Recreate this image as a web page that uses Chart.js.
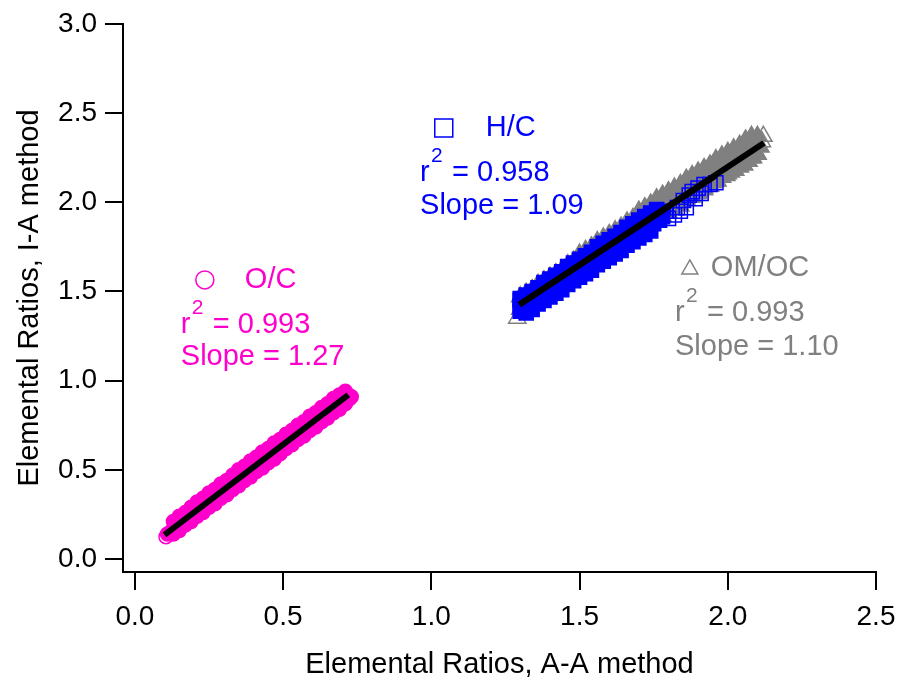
<!DOCTYPE html>
<html>
<head>
<meta charset="utf-8">
<script src="https://cdn.jsdelivr.net/npm/chart.js@4/dist/chart.umd.min.js"></script>
<style>
  html, body { margin: 0; padding: 0; background: #fff; }
  #wrap { position: relative; width: 900px; height: 685px; }
</style>
</head>
<body>
<div id="wrap"><canvas id="myChart" width="900" height="685"></canvas></div>
<script>
// ---- data ----
var xTicks = [0.0, 0.5, 1.0, 1.5, 2.0, 2.5];
var yTicks = [0.0, 0.5, 1.0, 1.5, 2.0, 2.5, 3.0];

// O/C  [A-A, I-A]
var ocPoints = [
    [0.105,0.125],[0.11,0.14],[0.12,0.15],[0.13,0.17],[0.14,0.18],[0.15,0.20],[0.16,0.21],[0.17,0.23],[0.18,0.23],[0.19,0.25],
    [0.20,0.27],[0.21,0.27],[0.22,0.29],[0.23,0.30],[0.24,0.32],[0.25,0.33],[0.26,0.34],[0.27,0.36],[0.28,0.36],[0.29,0.38],
    [0.30,0.40],[0.31,0.40],[0.32,0.42],[0.33,0.43],[0.34,0.45],[0.35,0.45],[0.36,0.47],[0.37,0.49],[0.38,0.49],[0.39,0.51],
    [0.40,0.52],[0.41,0.54],[0.42,0.54],[0.43,0.56],[0.44,0.57],[0.45,0.59],[0.46,0.60],[0.47,0.61],[0.48,0.63],[0.49,0.63],
    [0.50,0.65],[0.51,0.66],[0.52,0.68],[0.53,0.68],[0.54,0.70],[0.55,0.71],[0.56,0.73],[0.57,0.73],[0.58,0.75],[0.59,0.76],
    [0.60,0.78],[0.61,0.78],[0.62,0.80],[0.63,0.81],[0.64,0.83],[0.65,0.83],[0.66,0.85],[0.67,0.86],[0.68,0.88],[0.69,0.88],
    [0.70,0.90],[0.71,0.91],[0.72,0.92],[0.73,0.91],[0.725,0.90],
    [0.13,0.21],[0.15,0.24],[0.17,0.26],[0.19,0.29],[0.21,0.32],[0.23,0.34],[0.25,0.37],[0.27,0.39],[0.29,0.42],[0.31,0.44],
    [0.33,0.47],[0.35,0.50],[0.37,0.52],[0.39,0.55],[0.41,0.57],[0.43,0.60],[0.45,0.62],[0.47,0.65],[0.49,0.67],[0.51,0.70],
    [0.53,0.72],[0.55,0.75],[0.57,0.77],[0.59,0.80],[0.61,0.82],[0.63,0.85],[0.65,0.87],[0.67,0.90],[0.69,0.92],[0.71,0.94],
    [0.13,0.14],[0.15,0.16],[0.17,0.19],[0.19,0.21],[0.21,0.24],[0.23,0.26],[0.25,0.29],[0.27,0.31],[0.29,0.34],[0.31,0.36],
    [0.33,0.39],[0.35,0.41],[0.37,0.44],[0.39,0.46],[0.41,0.49],[0.43,0.51],[0.45,0.54],[0.47,0.56],[0.49,0.59],[0.51,0.62],
    [0.53,0.64],[0.55,0.67],[0.57,0.69],[0.59,0.72],[0.61,0.74],[0.63,0.77],[0.65,0.79],[0.67,0.82],[0.69,0.84],[0.71,0.87]
];

// H/C
var hcPoints = [
    [1.30,1.42],[1.30,1.45],[1.31,1.40],[1.32,1.45],[1.33,1.44],[1.34,1.47],[1.35,1.46],[1.36,1.49],[1.37,1.48],[1.38,1.51],
    [1.39,1.51],[1.40,1.53],[1.41,1.53],[1.42,1.55],[1.43,1.55],[1.44,1.58],[1.45,1.57],[1.46,1.60],[1.47,1.59],[1.48,1.62],
    [1.49,1.61],[1.50,1.64],[1.51,1.63],[1.52,1.66],[1.53,1.66],[1.54,1.68],[1.55,1.68],[1.56,1.71],[1.57,1.70],[1.58,1.73],
    [1.59,1.72],[1.60,1.75],[1.61,1.74],[1.62,1.77],[1.63,1.76],[1.64,1.79],[1.65,1.79],[1.66,1.81],[1.67,1.80],[1.68,1.83],
    [1.69,1.82],[1.70,1.85],[1.71,1.84],[1.72,1.87],[1.73,1.86],[1.74,1.89],[1.75,1.88],[1.76,1.91],[1.77,1.90],[1.78,1.92],
    [1.30,1.39],[1.32,1.42],[1.34,1.44],[1.36,1.46],[1.38,1.48],[1.40,1.50],[1.42,1.53],[1.44,1.55],[1.46,1.57],[1.48,1.59],
    [1.50,1.61],[1.52,1.64],[1.54,1.66],[1.56,1.68],[1.58,1.70],[1.60,1.72],[1.62,1.75],[1.64,1.77],[1.66,1.79],[1.68,1.81],
    [1.70,1.83],[1.72,1.86],[1.74,1.88],[1.76,1.90],
    [1.32,1.38],[1.34,1.40],[1.36,1.43],[1.38,1.45],[1.40,1.47],[1.42,1.49],[1.44,1.51],[1.46,1.54],[1.48,1.56],[1.50,1.58],
    [1.52,1.60],[1.54,1.62],[1.56,1.65],[1.58,1.67],[1.60,1.69],[1.62,1.71],[1.64,1.73],[1.66,1.76],[1.68,1.78],[1.70,1.80],
    [1.72,1.82],[1.74,1.84],
    [1.30,1.46],[1.32,1.48],[1.34,1.50],[1.36,1.52],[1.38,1.55],[1.40,1.57],[1.42,1.59],[1.44,1.61],[1.46,1.64],[1.48,1.66],
    [1.50,1.68],[1.52,1.70],[1.54,1.72],[1.56,1.75],[1.58,1.77],[1.60,1.79],[1.62,1.81],[1.64,1.83],[1.66,1.86],[1.68,1.88],
    [1.70,1.90],[1.72,1.92],[1.74,1.94],[1.76,1.96],
    [1.79,1.95],[1.80,1.91],[1.82,1.93],[1.83,1.97],[1.84,1.95],[1.85,2.01],[1.86,1.97],[1.87,2.04],[1.88,2.06],[1.89,2.02],
    [1.90,2.08],[1.91,2.05],[1.92,2.10],[1.94,2.10],[1.96,2.11]
];

// OM/OC
var omPoints = [
    [1.29,1.35],[1.30,1.40],[1.31,1.45],[1.32,1.46],[1.335,1.46],[1.35,1.49],[1.365,1.50],[1.38,1.53],[1.395,1.53],[1.41,1.56],
    [1.425,1.57],[1.44,1.59],[1.455,1.60],[1.47,1.63],[1.485,1.63],[1.50,1.66],[1.515,1.67],[1.53,1.69],[1.545,1.70],[1.56,1.72],
    [1.575,1.73],[1.59,1.75],[1.605,1.76],[1.62,1.78],[1.635,1.79],[1.65,1.81],[1.665,1.82],[1.68,1.84],[1.695,1.85],[1.71,1.87],
    [1.725,1.88],[1.74,1.90],[1.755,1.91],[1.77,1.93],[1.785,1.94],[1.80,1.96],[1.815,1.97],[1.83,1.99],[1.845,2.00],[1.86,2.02],
    [1.875,2.03],[1.89,2.05],[1.905,2.06],[1.92,2.08],[1.935,2.09],[1.95,2.11],[1.965,2.12],[1.98,2.14],[1.995,2.15],[2.01,2.17],
    [2.025,2.18],[2.04,2.20],[2.055,2.21],[2.07,2.23],[2.085,2.25],[2.10,2.27],[2.11,2.31],[2.12,2.37],[2.115,2.34],
    [1.30,1.47],[1.32,1.49],[1.34,1.51],[1.36,1.54],[1.38,1.56],[1.40,1.58],[1.42,1.60],[1.44,1.62],[1.46,1.65],[1.48,1.67],
    [1.50,1.71],[1.52,1.73],[1.54,1.75],[1.56,1.78],[1.58,1.80],[1.60,1.82],[1.62,1.84],[1.64,1.86],[1.66,1.89],[1.68,1.91],
    [1.70,1.93],[1.72,1.95],[1.74,1.97],[1.76,2.00],[1.78,2.02],[1.80,2.04],[1.82,2.06],[1.84,2.08],[1.86,2.11],[1.88,2.13],
    [1.90,2.15],[1.92,2.17],[1.94,2.19],[1.96,2.22],[1.98,2.24],[2.00,2.26],[2.02,2.28],[2.04,2.30],[2.06,2.33],[2.08,2.35],
    [2.10,2.37],
    [1.70,1.95],[1.72,1.97],[1.74,1.99],[1.76,2.02],[1.78,2.04],[1.80,2.06],[1.82,2.08],[1.84,2.10],[1.86,2.13],[1.88,2.15],
    [1.90,2.17],[1.92,2.19],[1.94,2.21],[1.96,2.24],[1.98,2.26],[2.00,2.28],[2.02,2.30],[2.04,2.32],[2.06,2.35],[2.08,2.37],
    [1.78,1.99],[1.80,2.01],[1.82,2.03],[1.84,2.05],[1.86,2.08],[1.88,2.10],[1.90,2.12],[1.92,2.14],[1.94,2.16],[1.96,2.19],
    [1.98,2.21],[2.00,2.23],[2.02,2.25],[2.04,2.27],[2.06,2.30],[2.08,2.32],[2.10,2.34],
    [1.78,1.92],[1.80,1.94],[1.82,1.96],[1.84,1.98],[1.86,2.01],[1.88,2.03],[1.90,2.05],[1.92,2.07],[1.94,2.09],[1.96,2.12],
    [1.98,2.14],[2.00,2.16],[2.02,2.18],[2.04,2.20],[2.06,2.23],[2.08,2.25],[2.10,2.27]
];

// linear fits (end points)
var ocFit = [[0.10, 0.135], [0.72, 0.92]];
var hcFit = [[1.30, 1.43], [1.96, 2.15]];
var omFit = [[1.296, 1.425], [2.122, 2.333]];

var MAGENTA = '#FF00CC', BLUE = '#0000FF', GRAY = '#808080';
var CLEAR = 'rgba(0,0,0,0)';

function pts(list) {
    return list.map(function (p) { return { x: p[0], y: p[1] }; });
}

// the dense middle of each cloud reads as solid colour, the stragglers stay hollow
function fillInside(color, lo, hi) {
    return function (c) {
        if (!c.raw) return color;
        return (c.raw.x <= lo || c.raw.x >= hi) ? CLEAR : color;
    };
}

Chart.defaults.font.family = 'Arial, "Liberation Sans", sans-serif';
Chart.defaults.color = '#000';

// text blocks next to each cloud
var notes = [
    { color: MAGENTA, mark: 'circle',   mx: 0.236, my: 1.565, name: 'O/C',   nx: 0.371, tx: 0.155, ry: 1.312, sy: 1.133, r2: '0.993', slope: '1.27' },
    { color: BLUE,    mark: 'square',   mx: 1.042, my: 2.417, name: 'H/C',   nx: 1.184, tx: 0.962, ry: 2.165, sy: 1.980, r2: '0.958', slope: '1.09' },
    { color: GRAY,    mark: 'triangle', mx: 1.872, my: 1.632, name: 'OM/OC', nx: 1.943, tx: 1.822, ry: 1.380, sy: 1.189, r2: '0.993', slope: '1.10' }
];

var notesPlugin = {
    id: 'notes',
    afterDatasetsDraw: function (chart) {
        var ctx = chart.ctx, sx = chart.scales.x, sy = chart.scales.y;
        ctx.save();
        notes.forEach(function (n) {
            ctx.strokeStyle = n.color;
            ctx.fillStyle = n.color;
            ctx.lineWidth = 1.5;
            var mx = sx.getPixelForValue(n.mx), my = sy.getPixelForValue(n.my);
            ctx.beginPath();
            if (n.mark === 'circle') {
                ctx.arc(mx, my, 9, 0, Math.PI * 2);
            } else if (n.mark === 'square') {
                ctx.rect(mx - 9, my - 9, 18, 18);
            } else {
                ctx.moveTo(mx, my - 8);
                ctx.lineTo(mx + 8, my + 6);
                ctx.lineTo(mx - 8, my + 6);
                ctx.closePath();
            }
            ctx.stroke();

            ctx.textBaseline = 'middle';
            ctx.textAlign = 'left';
            ctx.font = '29px Arial, "Liberation Sans", sans-serif';
            ctx.fillText(n.name, sx.getPixelForValue(n.nx), my);

            var tx = sx.getPixelForValue(n.tx);
            var ry = sy.getPixelForValue(n.ry);
            ctx.fillText('r', tx, ry);
            ctx.fillText('= ' + n.r2, tx + 32, ry);
            ctx.font = '21px Arial, "Liberation Sans", sans-serif';
            ctx.fillText('2', tx + 11, ry - 17);
            ctx.font = '29px Arial, "Liberation Sans", sans-serif';
            ctx.fillText('Slope = ' + n.slope, tx, sy.getPixelForValue(n.sy));
        });
        ctx.restore();
    }
};

function fixedTicks(values) {
    return function (scale) {
        scale.ticks = values.map(function (v) { return { value: v }; });
    };
}

var ctx = document.getElementById('myChart').getContext('2d');

var myChart = new Chart(ctx, {
    type: 'scatter',
    data: {
        datasets: [
            { label: 'O/C fit',   type: 'line', data: pts(ocFit), borderColor: '#000', borderWidth: 6, pointRadius: 0, showLine: true, order: 0 },
            { label: 'H/C fit',   type: 'line', data: pts(hcFit), borderColor: '#000', borderWidth: 6, pointRadius: 0, showLine: true, order: 0 },
            { label: 'OM/OC fit', type: 'line', data: pts(omFit), borderColor: '#000', borderWidth: 6, pointRadius: 0, showLine: true, order: 0 },
            { label: 'O/C',   data: pts(ocPoints), pointStyle: 'circle',   pointRadius: 7,  borderColor: MAGENTA,
              backgroundColor: fillInside(MAGENTA, 0.105, 9), pointBorderWidth: 1.5, order: 1 },
            { label: 'H/C',   data: pts(hcPoints), pointStyle: 'rect',     pointRadius: 10, borderColor: BLUE,
              backgroundColor: fillInside(BLUE, 0, 1.785), pointBorderWidth: 1.5, order: 2 },
            { label: 'OM/OC', data: pts(omPoints), pointStyle: 'triangle', pointRadius: 10, borderColor: GRAY,
              backgroundColor: fillInside(GRAY, 1.29, 2.115), pointBorderWidth: 1.5, order: 3 }
        ]
    },
    options: {
        responsive: false,
        animation: false,
        layout: { padding: { left: 0, top: 24, right: 24, bottom: 0 } },
        plugins: { legend: { display: false }, tooltip: { enabled: false } },
        scales: {
            x: {
                type: 'linear',
                min: -0.04,
                max: 2.5,
                afterBuildTicks: fixedTicks(xTicks),
                afterFit: function (scale) {
                    scale.height = 113;
                    scale.paddingLeft = 0;
                    scale.paddingRight = 0;
                },
                grid: { drawOnChartArea: false, drawTicks: true, tickLength: 18, lineWidth: 2, color: '#000' },
                border: { display: true, width: 2, color: '#000' },
                ticks: {
                    padding: 10,
                    maxRotation: 0,
                    font: { size: 28 },
                    callback: function (v) { return Number(v).toFixed(1); }
                },
                title: { display: true, text: 'Elemental Ratios, A-A method', font: { size: 29 }, padding: { top: 0, bottom: 3 } }
            },
            y: {
                type: 'linear',
                min: -0.073,
                max: 3.0,
                afterBuildTicks: fixedTicks(yTicks),
                afterFit: function (scale) {
                    scale.width = 123;
                    scale.paddingTop = 0;
                    scale.paddingBottom = 0;
                },
                grid: { drawOnChartArea: false, drawTicks: true, tickLength: 18, lineWidth: 2, color: '#000' },
                border: { display: true, width: 2, color: '#000' },
                ticks: {
                    padding: 8,
                    font: { size: 28 },
                    callback: function (v) { return Number(v).toFixed(1); }
                },
                title: { display: true, text: 'Elemental Ratios, I-A method', font: { size: 29 }, padding: { top: 13, bottom: 0 } }
            }
        }
    },
    plugins: [notesPlugin]
});
</script>
</body>
</html>
